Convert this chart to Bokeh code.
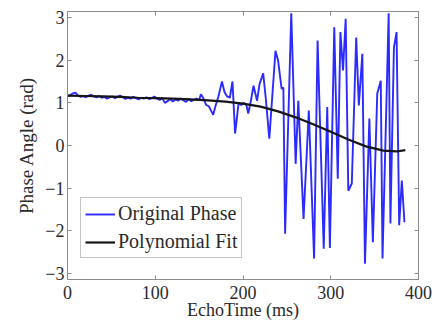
import math
from bokeh.plotting import figure
from bokeh.models import LinearAxis, Range1d, Legend, LegendItem, CustomJSTickFormatter, FixedTicker
from bokeh.embed import file_html
from bokeh.resources import INLINE

# Original phase (time in ms, phase in rad)
echo_time = [0, 3, 6, 9, 12, 15, 18, 21, 24, 27, 30, 33, 36, 39, 42, 45, 48, 51, 54, 57,
             60, 63, 66, 69, 72, 75, 78, 81, 84, 87, 90, 93, 96, 99, 102, 105, 108, 111, 114, 117,
             120, 123, 126, 129, 132, 135, 138, 141, 144, 147, 150, 152, 155, 158, 161, 164, 166, 169, 172, 176,
             179, 182, 185, 188, 191, 195, 198, 201, 204, 206, 209, 212, 216, 219, 223, 226, 230, 237, 240, 244,
             246, 248, 255, 260, 263, 269, 275, 281, 285, 292, 296, 299, 304, 308, 311, 314, 317, 320, 324, 329,
             332, 336, 339, 344, 348, 353, 357, 359, 366, 368, 372, 375, 378, 381, 384]
phase = [1.15, 1.18, 1.22, 1.24, 1.17, 1.14, 1.16, 1.13, 1.17, 1.19, 1.15, 1.13, 1.16, 1.12, 1.14, 1.10, 1.13, 1.15, 1.11, 1.14,
         1.17, 1.13, 1.09, 1.12, 1.10, 1.14, 1.11, 1.08, 1.12, 1.10, 1.13, 1.09, 1.11, 1.15, 1.10, 1.07, 1.11, 1.00, 1.04, 1.09,
         1.03, 1.08, 1.05, 1.10, 1.06, 1.02, 1.09, 1.04, 1.07, 1.10, 1.06, 1.20, 1.10, 0.95, 0.92, 0.80, 0.72, 0.95, 1.15, 1.50,
         1.25, 1.15, 1.12, 1.50, 0.28, 1.00, 0.95, 1.00, 0.94, 0.75, 1.05, 1.40, 1.05, 1.45, 1.69, 1.10, 0.16, 2.22, 1.99, 1.33,
         1.36, -2.07, 3.10, -0.43, 1.05, -1.72, 0.82, -2.65, 2.46, -2.42, 0.90, -2.40, 2.77, -0.78, 2.66, 1.76, 2.97, -1.06, -0.89, 2.53,
         0.94, 2.15, -2.77, 0.63, -2.27, 1.22, 1.52, -2.65, 3.10, -1.83, 2.30, 2.66, -1.87, -0.82, -1.80]

# Polynomial fit
fit_time = [0, 20, 40, 60, 80, 100, 120, 140, 160, 180, 200, 220, 240, 260, 280, 300, 320, 340, 360, 375, 385]
fit_phase = [1.17, 1.16, 1.15, 1.14, 1.12, 1.11, 1.10, 1.08, 1.06, 1.03, 0.98, 0.91, 0.80, 0.66, 0.50, 0.32, 0.14, -0.02, -0.12, -0.14, -0.11]

x_ticks = [0, 100, 200, 300, 400]
y_ticks = [-3, -2, -1, 0, 1, 2, 3]
x_title = "EchoTime (ms)"
y_title = "Phase Angle (rad)"

FONT = "Liberation Serif"
TXT = "#2a2a2a"
GRAY = "#8c8c8c"

p = figure(width=446, height=322, output_backend="svg", toolbar_location=None,
           x_range=Range1d(0, 400), y_range=Range1d(-math.pi, math.pi),
           min_border_left=67, min_border_right=28, min_border_top=11, min_border_bottom=43)
p.grid.visible = False
p.outline_line_color = GRAY
p.background_fill_color = "white"

fmt = CustomJSTickFormatter(code="return tick < 0 ? '\u2212' + Math.abs(tick) : String(tick);")
blank = CustomJSTickFormatter(code="return '';")

for ax in p.xaxis:
    ax.ticker = FixedTicker(ticks=x_ticks)
for ax in p.yaxis:
    ax.ticker = FixedTicker(ticks=y_ticks)
    ax.formatter = fmt

for ax in p.xaxis + p.yaxis:
    ax.axis_line_color = GRAY
    ax.major_tick_line_color = GRAY
    ax.major_tick_in = 4
    ax.major_tick_out = 0
    ax.minor_tick_line_color = None
    ax.major_label_text_font = FONT
    ax.major_label_text_font_size = "18px"
    ax.major_label_text_color = TXT
    ax.axis_label_text_font = FONT
    ax.axis_label_text_font_style = "normal"
    ax.axis_label_text_color = TXT

p.xaxis.axis_label = x_title
p.xaxis.axis_label_text_font_size = "18px"
p.xaxis.major_label_standoff = 6
p.xaxis.axis_label_standoff = -2
p.yaxis.axis_label = y_title
p.yaxis.axis_label_text_font_size = "19px"
p.yaxis.major_label_standoff = 3
p.yaxis.axis_label_standoff = 5

# top & right tick-only axes
top = LinearAxis(ticker=FixedTicker(ticks=x_ticks), formatter=blank,
                 axis_line_color=GRAY, major_tick_line_color=GRAY, major_tick_in=4, major_tick_out=0,
                 minor_tick_line_color=None, major_label_standoff=0)
right = LinearAxis(ticker=FixedTicker(ticks=y_ticks), formatter=blank,
                   axis_line_color=GRAY, major_tick_line_color=GRAY, major_tick_in=4, major_tick_out=0,
                   minor_tick_line_color=None, major_label_standoff=0)
p.add_layout(top, "above")
p.add_layout(right, "right")

r1 = p.line(echo_time, phase, line_color="#2b2bff", line_width=1.9)
r2 = p.line(fit_time, fit_phase, line_color="#151515", line_width=2.2)

legend = Legend(items=[LegendItem(label="Original Phase", renderers=[r1]),
                       LegendItem(label="Polynomial Fit", renderers=[r2])],
                location=(13, 21))
legend.label_text_font = FONT
legend.label_text_font_size = "20px"
legend.label_text_color = TXT
legend.border_line_color = GRAY
legend.border_line_width = 1
legend.glyph_width = 30
legend.label_standoff = 3
legend.padding = 4
legend.spacing = 5
legend.margin = 0
legend.background_fill_alpha = 1
p.add_layout(legend, "center")

open("out.html", "w").write(file_html(p, INLINE))
